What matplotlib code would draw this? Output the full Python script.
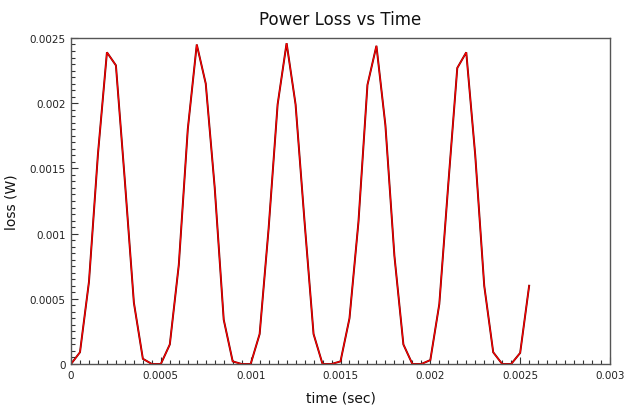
import numpy as np
import matplotlib
matplotlib.use('Agg')
import matplotlib.pyplot as plt
from matplotlib.ticker import MultipleLocator, FuncFormatter

# power loss samples, one every 50 us
loss_w = [0, 0.00009, 0.00063, 0.00161, 0.00239, 0.00229, 0.0014, 0.00047, 0.00004, 0, 
          0, 0.00015, 0.00076, 0.0018, 0.00245, 0.00215, 0.00135, 0.00034, 0.00002, 0,
          0, 0.00023, 0.00104, 0.00199, 0.00246, 0.00199, 0.00109, 0.00023, 0, 0,
          0.00002, 0.00035, 0.00109, 0.00214, 0.00244, 0.00183, 0.00083, 0.00015, 0, 0,
          0.00003, 0.00046, 0.00138, 0.00227, 0.00239, 0.0016, 0.0006, 0.00009, 0, 0,
          0.000085, 0.0006]
dt = 5e-5
time_s = np.arange(len(loss_w)) * dt

fig = plt.figure(figsize=(6.25, 4.06), dpi=100)
ax = fig.add_axes([0.1136, 0.101, 0.8624, 0.803])

# dark edge under the red trace, like the original rendering
ax.plot(time_s, loss_w, color='#6a0000', lw=1.4, solid_joinstyle='miter')
ax.plot(time_s, loss_w, color='#ff0000', lw=0.8, solid_joinstyle='miter')

ax.set_xlim(0, 0.003)
ax.set_ylim(0, 0.0025)

fmt = FuncFormatter(lambda v, pos: '0' if abs(v) < 1e-12 else f'{v:g}')
ax.xaxis.set_major_locator(MultipleLocator(0.0005))
ax.xaxis.set_minor_locator(MultipleLocator(0.00005))
ax.yaxis.set_major_locator(MultipleLocator(0.0005))
ax.yaxis.set_minor_locator(MultipleLocator(0.00005))
ax.xaxis.set_major_formatter(fmt)
ax.yaxis.set_major_formatter(fmt)

ax.tick_params(which='both', direction='in', top=False, right=False,
               color='#333333', labelsize=7.5, labelcolor='#222222')
ax.tick_params(which='major', length=5, width=0.8, pad=4)
ax.tick_params(which='minor', length=3, width=0.8)

for s in ax.spines.values():
    s.set_color('#555555')
    s.set_linewidth(1.0)

ax.set_title('Power Loss vs Time', fontsize=12, pad=10, color='#111111')
ax.set_xlabel('time (sec)', fontsize=10, labelpad=8, color='#111111')
ax.set_ylabel('loss (W)', fontsize=10, labelpad=8, color='#111111')

fig.savefig('out.png', dpi=100)
